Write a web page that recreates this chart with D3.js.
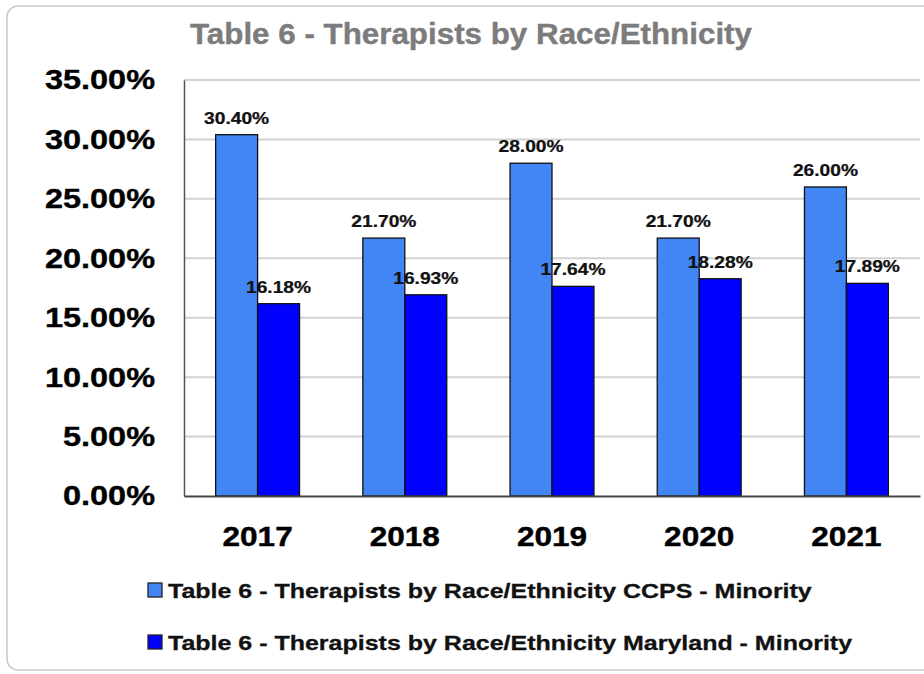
<!DOCTYPE html>
<html>
<head>
<meta charset="utf-8">
<script src="https://cdn.jsdelivr.net/npm/d3@7/dist/d3.min.js"></script>
<style>
  html, body { margin: 0; padding: 0; background: #fff; }
  svg { display: block; font-family: "Liberation Sans", Arial, sans-serif; }
</style>
</head>
<body>
<svg id="chart" width="924" height="674"></svg>
<script>
// Chart data
const years = ["2017", "2018", "2019", "2020", "2021"];
const ccpsMinority = [30.40, 21.70, 28.00, 21.70, 26.00];
const marylandMinority = [16.18, 16.93, 17.64, 18.28, 17.89];
const yTicks = [0, 5, 10, 15, 20, 25, 30, 35];
const seriesNames = [
  "Table 6 - Therapists by Race/Ethnicity CCPS - Minority",
  "Table 6 - Therapists by Race/Ethnicity Maryland - Minority"
];
const chartTitle = "Table 6 - Therapists by Race/Ethnicity";

const colors = ["#4285f4", "#0000ff"];
const seriesValues = [ccpsMinority, marylandMinority];

const svg = d3.select("#chart");

// Widen a text selection horizontally by factor k, keeping its anchor x in place
function widen(sel, k) {
  sel.each(function () {
    const t = d3.select(this);
    const x0 = +(t.attr("x") || 0);
    t.attr("x", x0 / k).attr("transform", `scale(${k},1)`);
  });
}

// Card outline
svg.append("rect")
  .attr("x", 7).attr("y", 6)
  .attr("width", 940).attr("height", 664)
  .attr("rx", 11).attr("ry", 11)
  .attr("fill", "#fff")
  .attr("stroke", "#c8c8c8")
  .attr("stroke-width", 1.5);

const plot = { left: 184, right: 920, top: 80, bottom: 496 };

const x = d3.scaleBand()
  .domain(years)
  .range([plot.left, plot.right])
  .padding(0);

const y = d3.scaleLinear()
  .domain([0, 35])
  .range([plot.bottom, plot.top]);

const groupWidth = x.bandwidth() * 0.57;
const xs = d3.scaleBand()
  .domain(d3.range(seriesValues.length))
  .range([0, groupWidth])
  .padding(0);

// Title
svg.append("text")
  .attr("x", 471).attr("y", 44)
  .attr("text-anchor", "middle")
  .attr("fill", "#7c7c7c")
  .attr("stroke", "#7c7c7c")
  .attr("stroke-width", 0.4)
  .attr("font-weight", "bold")
  .attr("font-size", 30)
  .text(chartTitle)
  .call(widen, 1.045);

// Gridlines
svg.append("g")
  .selectAll("line")
  .data(yTicks.filter(t => t > 0))
  .join("line")
  .attr("x1", plot.left).attr("x2", plot.right)
  .attr("y1", d => y(d)).attr("y2", d => y(d))
  .attr("stroke", "#d2d2d2")
  .attr("stroke-width", 2);

// Y axis
const yAxis = d3.axisLeft(y)
  .tickValues(yTicks)
  .tickSize(0)
  .tickPadding(29)
  .tickFormat(d => d.toFixed(2) + "%");

const yg = svg.append("g")
  .attr("transform", `translate(${plot.left},0)`)
  .call(yAxis);
yg.select(".domain").attr("stroke", "#555").attr("stroke-width", 1.5);
yg.selectAll("text")
  .attr("font-family", "Liberation Sans, Arial, sans-serif")
  .attr("font-weight", "bold")
  .attr("font-size", 28)
  .attr("fill", "#000")
  .attr("stroke", "#000")
  .attr("stroke-width", 0.4)
  .attr("dy", "0.32em")
  .call(widen, 1.16);

// Bars
const groups = svg.append("g")
  .selectAll("g")
  .data(years)
  .join("g")
  .attr("transform", d => `translate(${x(d) + (x.bandwidth() - groupWidth) / 2},0)`);

groups.selectAll("rect")
  .data((d, i) => seriesValues.map((s, k) => ({ k, v: s[i] })))
  .join("rect")
  .attr("x", d => xs(d.k))
  .attr("width", xs.bandwidth())
  .attr("y", d => y(d.v))
  .attr("height", d => y(0) - y(d.v))
  .attr("fill", d => colors[d.k])
  .attr("stroke", "#111")
  .attr("stroke-width", 1.3);

// Value labels
groups.selectAll("text.val")
  .data((d, i) => seriesValues.map((s, k) => ({ k, v: s[i] })))
  .join("text")
  .attr("class", "val")
  .attr("x", d => xs(d.k) + xs.bandwidth() / 2)
  .attr("y", d => y(d.v) - 11)
  .attr("text-anchor", "middle")
  .attr("font-weight", "bold")
  .attr("font-size", 16)
  .attr("fill", "#111")
  .attr("stroke", "#111")
  .attr("stroke-width", 0.25)
  .text(d => d.v.toFixed(2) + "%")
  .call(widen, 1.2);

// X axis
const xAxis = d3.axisBottom(x).tickSize(0).tickPadding(30);
const xg = svg.append("g")
  .attr("transform", `translate(0,${plot.bottom})`)
  .call(xAxis);
xg.select(".domain").attr("stroke", "#444").attr("stroke-width", 2);
xg.selectAll("text")
  .attr("font-family", "Liberation Sans, Arial, sans-serif")
  .attr("font-weight", "bold")
  .attr("font-size", 27)
  .attr("fill", "#000")
  .attr("stroke", "#000")
  .attr("stroke-width", 0.4)
  .attr("dy", "0.71em")
  .attr("y", 31)
  .call(widen, 1.17);

// Legend
const legend = svg.append("g")
  .selectAll("g")
  .data(seriesNames)
  .join("g")
  .attr("transform", (d, i) => `translate(148,${590 + i * 52})`);

legend.append("rect")
  .attr("x", 0).attr("y", -7)
  .attr("width", 14).attr("height", 14)
  .attr("fill", (d, i) => colors[i])
  .attr("stroke", "#222")
  .attr("stroke-width", 1.3);

legend.append("text")
  .attr("x", 20).attr("y", 7.5)
  .attr("font-weight", "bold")
  .attr("font-size", 21)
  .attr("fill", "#111")
  .attr("stroke", "#111")
  .attr("stroke-width", 0.3)
  .text(d => d)
  .call(widen, 1.19);
</script>
</body>
</html>
